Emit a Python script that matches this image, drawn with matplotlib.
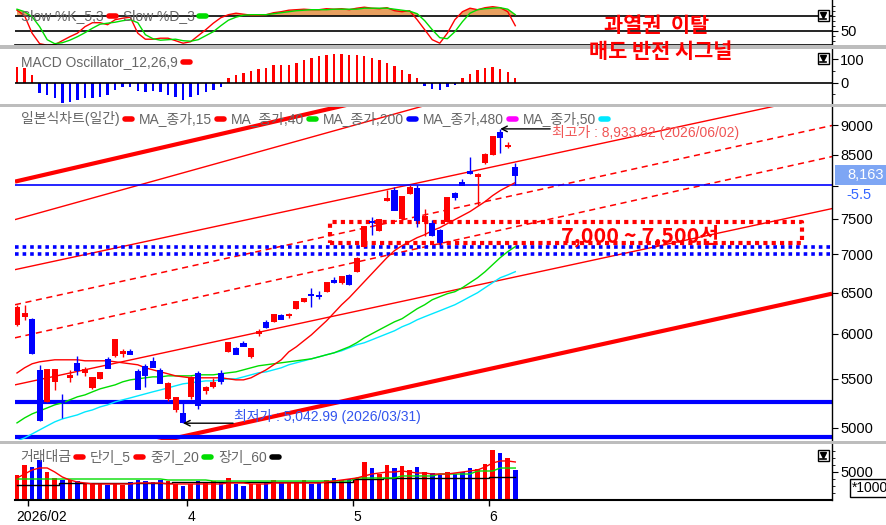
import numpy as np
import matplotlib
matplotlib.use("Agg")
import matplotlib.pyplot as plt
from matplotlib.patches import Rectangle
from matplotlib.lines import Line2D
import matplotlib.transforms as mtransforms
from matplotlib.ticker import FixedLocator, FixedFormatter, NullLocator

W, H = 887, 525
plt.rcParams['font.family'] = ['Liberation Sans', 'Noto Sans CJK KR', 'DejaVu Sans']

# ---------------- data ----------------
opens  = [6107, 6203, 6179, 5596, 5259, 5467, 5270, 5510, 5673, 5560,
          5405, 5500, 5718, 5742, 5770, 5808, 5585, 5640, 5695, 5596,
          5285, 5178, 5148, 5310, 5563, 5370, 5414, 5563, 5795, 5840,
          5897, 5730, 6000, 6143, 6143, 6227, 6205, 6300, 6386, 6480,
          6470, 6511, 6664, 6616, 6730, 6769, 7106, 7465, 7330, 7770,
          7937, 7503, 7876, 7968, 7460, 7445, 7344, 7460, 7891, 8062,
          8236, 8140, 8365, 8496, 8884, 8620, 8300]
highs  = [6340, 6349, 6190, 5650, 5596, 5600, 5335, 5596, 5742, 5630,
          5520, 5575, 5730, 5940, 5830, 5830, 5600, 5660, 5739, 5610,
          5460, 5310, 5250, 5530, 5580, 5420, 5508, 5594, 5910, 5850,
          5920, 5825, 6060, 6160, 6235, 6240, 6250, 6390, 6430, 6562,
          6520, 6630, 6700, 6710, 6740, 6960, 7400, 7532, 7495, 7937,
          7980, 7835, 8010, 8010, 7640, 7480, 7360, 7830, 7900, 8100,
          8463, 8204, 8520, 8810, 8933.82, 8712, 8365]
lows   = [6095, 6167, 5770, 5068, 5250, 5383, 5098, 5460, 5540, 5530,
          5390, 5490, 5610, 5735, 5740, 5770, 5394, 5414, 5620, 5450,
          5270, 5157, 5042.99, 5290, 5187, 5340, 5400, 5440, 5790, 5765,
          5855, 5720, 5975, 6070, 6140, 6170, 6190, 6295, 6380, 6325,
          6420, 6505, 6625, 6610, 6600, 6760, 7100, 7273, 7320, 7760,
          7630, 7495, 7870, 7380, 7260, 7250, 7106, 7450, 7780, 8010,
          8190, 7711, 8340, 8490, 8530, 8600, 8015]
closes = [6312, 6239, 5784, 5078, 5596, 5596, 5255, 5530, 5596, 5590,
          5510, 5563, 5618, 5930, 5790, 5772, 5394, 5542, 5629, 5457,
          5445, 5300, 5055, 5510, 5228, 5395, 5457, 5478, 5897, 5772,
          5862, 5820, 6025, 6083, 6227, 6180, 6220, 6386, 6423, 6465,
          6460, 6626, 6630, 6703, 6603, 6943, 7387, 7450, 7488, 7795,
          7635, 7830, 7968, 7488, 7530, 7273, 7175, 7815, 7830, 8015,
          8204, 8170, 8496, 8798, 8798, 8640, 8163]

ma15 = [5560, 5616, 5660, 5682, 5693, 5704, 5704, 5704, 5704, 5693,
        5693, 5693, 5693, 5682, 5671, 5660, 5649, 5616, 5594, 5572,
        5551, 5529, 5518, 5508, 5508, 5508, 5508, 5508, 5497, 5486,
        5486, 5508, 5551, 5594, 5649, 5704, 5793, 5850, 5919, 5988,
        6070, 6153, 6250, 6348, 6435, 6536, 6639, 6743, 6849, 6956,
        7052, 7120, 7176, 7232, 7274, 7331, 7374, 7432, 7490, 7549,
        7608, 7682, 7757, 7848, 7925, 7987, 8049]
ma40 = [5046, 5095, 5135, 5165, 5195, 5226, 5246, 5277, 5308, 5328,
        5360, 5391, 5412, 5433, 5465, 5486, 5497, 5508, 5518, 5518,
        5529, 5529, 5529, 5529, 5540, 5540, 5540, 5551, 5562, 5572,
        5594, 5616, 5638, 5649, 5660, 5671, 5682, 5693, 5704, 5715,
        5737, 5760, 5782, 5816, 5850, 5896, 5953, 6000, 6047, 6094,
        6141, 6178, 6238, 6299, 6348, 6410, 6448, 6486, 6511, 6562,
        6626, 6690, 6769, 6862, 6956, 7038, 7107]
ma50 = [4872, 4901, 4939, 4978, 5017, 5056, 5085, 5105, 5125, 5155,
        5175, 5205, 5226, 5256, 5277, 5297, 5318, 5339, 5360, 5380,
        5401, 5423, 5444, 5454, 5465, 5475, 5475, 5486, 5497, 5497,
        5518, 5540, 5562, 5572, 5594, 5616, 5649, 5671, 5693, 5715,
        5737, 5760, 5782, 5805, 5839, 5873, 5896, 5930, 5965, 6000,
        6035, 6082, 6118, 6165, 6202, 6238, 6274, 6311, 6348, 6397,
        6448, 6498, 6562, 6626, 6690, 6727, 6769]

stoch_k = [91, 80, 45, 24, 21, 22, 30, 38, 45, 58,
           66, 66, 62, 72, 75, 77, 45, 33, 33, 35,
           35, 30, 25, 28, 40, 52, 65, 76, 82, 85,
           83, 81, 81, 82, 86, 88, 91, 92, 93, 92,
           92, 94, 93, 94, 92, 95, 97, 95, 94, 96,
           90, 88, 90, 72, 52, 32, 25, 45, 72, 88,
           95, 92, 96, 98, 96, 88, 60]
stoch_d = [93, 88, 78, 58, 32, 24, 26, 31, 38, 46,
           55, 63, 65, 67, 70, 72, 66, 42, 34, 31,
           32, 33, 30, 29, 32, 40, 48, 60, 71, 77,
           81, 82, 82, 82, 84, 86, 88, 90, 91, 92,
           92, 92, 93, 93, 93, 93, 95, 95, 95, 95,
           93, 91, 89, 84, 70, 52, 36, 34, 48, 68,
           85, 92, 94, 95, 96, 93, 82]

macd_osc = [68, 61, 33, -45, -53, -67, -85, -81, -74, -67,
            -67, -60, -53, -31, -20, -20, -34, -38, -34, -38,
            -53, -60, -74, -60, -53, -38, -31, -20, 19, 33,
            43, 50, 57, 64, 76, 76, 76, 83, 97, 105,
            114, 118, 123, 123, 118, 118, 114, 105, 97, 84,
            71, 54, 37, 20, -14, -28, -31, -18, -10, 20,
            37, 54, 63, 67, 58, 46, 20]

volume = [4460, 6250, 5890, 7140, 5000, 3930, 3570, 3570, 3390, 2860,
          2860, 2860, 2680, 3040, 2680, 3210, 3570, 3390, 3210, 3570,
          3390, 2860, 2500, 2860, 3390, 3040, 3390, 3040, 3930, 2860,
          2500, 2860, 2860, 3040, 3570, 3210, 3040, 3210, 3570, 2860,
          3040, 3570, 3930, 3570, 3750, 3930, 6790, 5710, 4640, 6250,
          5710, 6070, 5360, 5890, 5000, 4820, 4460, 5000, 4640, 5000,
          5710, 5540, 6430, 8930, 8390, 7500, 5360]
vol_ma5 = [3930, 4640, 5360, 5720, 5720, 5000, 4110, 3570, 3210, 3040,
           2860, 2860, 2860, 2860, 2860, 2860, 3040, 3040, 3040, 3040,
           2860, 2860, 2860, 2860, 2860, 2860, 2860, 2860, 3040, 3040,
           3040, 2860, 2860, 2860, 3040, 3040, 3040, 3040, 3040, 3040,
           3040, 3210, 3390, 3570, 3750, 3930, 4290, 4640, 4820, 5000,
           5000, 5180, 5000, 4820, 4820, 4640, 4640, 4640, 4820, 5000,
           5180, 5360, 5890, 6610, 6970, 6970, 6790]
vol_ma20 = [3750, 3750, 3750, 3750, 3750, 3750, 3750, 3750, 3750, 3750,
            3750, 3750, 3750, 3750, 3750, 3750, 3750, 3750, 3750, 3750,
            3570, 3570, 3570, 3570, 3570, 3570, 3390, 3390, 3390, 3390,
            3390, 3390, 3390, 3390, 3390, 3390, 3390, 3390, 3390, 3390,
            3390, 3390, 3390, 3390, 3390, 3930, 3930, 3930, 3930, 3930,
            3930, 4290, 4290, 4290, 4290, 4290, 4640, 4640, 4640, 4640,
            4640, 5180, 5180, 5180, 5710, 5710, 5710]
vol_ma60 = [2680, 2680, 2680, 2680, 2680, 2680, 2950, 2950, 2950, 2950,
            2950, 2950, 2950, 2950, 2950, 2950, 2950, 2950, 2950, 2950,
            2950, 3300, 3300, 3300, 3300, 3300, 3300, 3300, 3300, 3300,
            3300, 3300, 3300, 3300, 3300, 3300, 3300, 3300, 3300, 3300,
            3300, 3300, 3300, 3300, 3300, 3750, 3750, 3750, 3750, 3930,
            3930, 3930, 3930, 3930, 3930, 3930, 3930, 3930, 3930, 3930,
            3930, 3930, 3930, 4110, 4110, 4110, 4110]

# trend lines: (x0, p0, x1, p1) in bar index / price
trend_thick = [(-0.27, 8064, 107.95, 11642), (-0.27, 4575, 107.95, 6486)]
trend_thin = [(-0.27, 7490, 107.95, 11650), (-0.27, 6796, 107.95, 9564),
              (-0.27, 5433, 107.95, 7652)]
trend_dashed = [(-0.27, 6348, 107.95, 8993), (-0.27, 5953, 107.95, 8466)]
hline_blue_thin = [8015]
hline_blue_thick = [5250, 4905]
hline_blue_dotted = [7100, 7000]
zone_box = (41.5, 104.0, 7160, 7460)

high_idx, high_val, high_date = 64, 8933.82, "2026/06/02"
low_idx, low_val, low_date = 22, 5042.99, "2026/03/31"
date_ticks = [1.5, 22.5, 44.5, 62.5]
date_labels = ["2026/02", "4", "5", "6"]
last_change = "-5.5"

RED = "#ff0000"
BLUE = "#0000ff"
GRAY_TXT = "#666666"

# ---------------- figure ----------------
fig = plt.figure(figsize=(W / 100, H / 100), dpi=100)
fig.patch.set_facecolor("white")


def rect(x0, y0, x1, y1):
    return [x0 / W, 1 - y1 / H, (x1 - x0) / W, (y1 - y0) / H]


XL = (-0.265, 107.95)
idx = np.arange(len(closes))
o = np.array(opens, float)
c = np.array(closes, float)
hi = np.array(highs, float)
lo = np.array(lows, float)
col = np.where(c >= o, RED, BLUE)


def style_ax(ax):
    ax.set_xlim(*XL)
    ax.set_facecolor("white")
    for s in ("left", "top", "bottom"):
        ax.spines[s].set_visible(False)
    ax.spines["right"].set_color("black")
    ax.spines["right"].set_linewidth(1.0)
    ax.yaxis.tick_right()
    ax.tick_params(axis="y", which="both", direction="out", colors="black",
                   labelsize=10.5, pad=2)
    ax.tick_params(axis="y", which="major", length=4)
    ax.tick_params(axis="y", which="minor", length=2)
    ax.set_xticks([])


# ---- stochastic ----
ax_st = fig.add_axes(rect(15, 0, 832, 45))
style_ax(ax_st)
ax_st.set_ylim(21.4, 111.4)
ax_st.spines["bottom"].set_visible(True)
ax_st.spines["bottom"].set_color("black")
ax_st.spines["bottom"].set_linewidth(1.2)
k = np.array(stoch_k, float)
d = np.array(stoch_d, float)
top = np.maximum(k, d)
ax_st.fill_between(idx, 80, top, where=top > 80, interpolate=True,
                   color="#e8a060", lw=0)
ax_st.axhline(80, color="black", lw=1.2)
ax_st.axhline(50, color="black", lw=1.2)
ax_st.plot(idx, k, color=RED, lw=1)
ax_st.plot(idx, d, color="#00dd00", lw=1)
ax_st.yaxis.set_major_locator(FixedLocator([50]))
ax_st.yaxis.set_minor_locator(FixedLocator([30, 40, 60, 70, 80, 90, 100]))

# ---- MACD ----
ax_mc = fig.add_axes(rect(15, 49, 832, 104))
style_ax(ax_mc)
ax_mc.set_ylim(-91, 144)
m = np.array(macd_osc, float)
ax_mc.bar(idx, m, width=0.32, color=np.where(m >= 0, RED, BLUE), lw=0)
ax_mc.axhline(0, color="black", lw=1.2)
ax_mc.yaxis.set_major_locator(FixedLocator([-100, 0, 100]))
ax_mc.yaxis.set_minor_locator(FixedLocator([-50, 50]))

# ---- price ----
ax_pr = fig.add_axes(rect(15, 107, 832, 440))
style_ax(ax_pr)
ax_pr.set_yscale("log")
ax_pr.set_ylim(4881, 9322)
ax_pr.yaxis.set_major_locator(FixedLocator([5000, 5500, 6000, 6500, 7000, 7500, 8000, 8500, 9000]))
ax_pr.yaxis.set_major_formatter(FixedFormatter(["5000", "5500", "6000", "6500", "7000", "7500", "", "8500", "9000"]))
ax_pr.yaxis.set_minor_locator(NullLocator())

for (x0, p0, x1, p1) in trend_thick:
    ax_pr.plot([x0, x1], [p0, p1], color=RED, lw=3.0, solid_capstyle="butt")
for (x0, p0, x1, p1) in trend_thin:
    ax_pr.plot([x0, x1], [p0, p1], color=RED, lw=1.0)
for (x0, p0, x1, p1) in trend_dashed:
    ax_pr.plot([x0, x1], [p0, p1], color=RED, lw=1.1, linestyle=(0, (4, 3)))
for p in hline_blue_thin:
    ax_pr.axhline(p, color=BLUE, lw=1.2)
for p in hline_blue_thick:
    ax_pr.axhline(p, color=BLUE, lw=3.0)
for p in hline_blue_dotted:
    ax_pr.axhline(p, color=BLUE, lw=2.6, linestyle=(0, (1, 1.1)))
zx0, zx1, zp0, zp1 = zone_box
ax_pr.plot([zx0, zx1, zx1, zx0, zx0], [zp0, zp0, zp1, zp1, zp0], color=RED,
           lw=3.0, linestyle=(0, (1, 1)))

ax_pr.plot(idx, ma50, color="#00e8ff", lw=1.0)
ax_pr.plot(idx, ma40, color="#00dd00", lw=1.0)
ax_pr.plot(idx, ma15, color=RED, lw=1.0)

# candles
ax_pr.vlines(idx, lo, hi, colors=col, lw=1.0, zorder=4)
blo = np.minimum(o, c)
bhi = np.maximum(o, c)
ax_pr.bar(idx, bhi - blo, bottom=blo, width=0.8, color=col, lw=0, zorder=5)
ax_pr.hlines(c, idx - 0.4, idx + 0.4, colors=col, lw=1.4, zorder=5)

# high / low annotations
ax_pr.annotate("", xy=(high_idx, high_val), xytext=(36, 0), textcoords="offset points",
               arrowprops=dict(arrowstyle="->", color="black", lw=1.0, shrinkA=0, shrinkB=0),
               zorder=6)
ax_pr.annotate(f"최고가 : {high_val:,.2f} ({high_date})", xy=(high_idx, high_val),
               xytext=(37, -2.5), textcoords="offset points", ha="left", va="center",
               fontsize=10, color="#f05555", zorder=6)
ax_pr.annotate("", xy=(low_idx, low_val), xytext=(36, 0), textcoords="offset points",
               arrowprops=dict(arrowstyle="->", color="black", lw=1.0, shrinkA=0, shrinkB=0),
               zorder=6)
ax_pr.annotate(f"최저가 : {low_val:,.2f} ({low_date})", xy=(low_idx, low_val),
               xytext=(37, 4.5), textcoords="offset points", ha="left", va="center",
               fontsize=10, color="#3355ee", zorder=6)

fig.text(640 / W, 1 - 236 / H, "7,000 ~ 7,500선", fontsize=15.5, fontweight="bold",
         color=RED, ha="center", va="center", family=["Noto Sans CJK KR"], zorder=7)

# last-price tag (figure-level so it sits above the axes)
last = closes[-1]
fig.canvas.draw()
ypix = ax_pr.transData.transform((0, last))[1]
ypix2 = ax_pr.transData.transform((0, last * 0.962))[1]
fig.add_artist(Rectangle((835 / W, (ypix - 10) / H), 52 / W, 20 / H, transform=fig.transFigure,
                         facecolor="#7ea6f4", edgecolor="none", zorder=8))
fig.text(847 / W, ypix / H, f"{last:,.0f}", fontsize=10.5, color="white",
         ha="left", va="center", zorder=9)
fig.text(846 / W, ypix2 / H, last_change, fontsize=10.5, color="#3366ff",
         ha="left", va="center", zorder=9)

# ---- volume ----
ax_vo = fig.add_axes(rect(15, 444, 832, 500))
style_ax(ax_vo)
ax_vo.set_ylim(0, 10000)
ax_vo.spines["bottom"].set_visible(True)
ax_vo.spines["bottom"].set_color("black")
ax_vo.spines["bottom"].set_linewidth(1.5)
ax_vo.bar(idx, volume, width=0.6, color=col, lw=0)
ax_vo.plot(idx, vol_ma60, color="black", lw=1.0, drawstyle="steps-mid")
ax_vo.plot(idx, vol_ma20, color="#00dd00", lw=1.0)
ax_vo.plot(idx, vol_ma5, color=RED, lw=1.0)
ax_vo.yaxis.set_major_locator(FixedLocator([5000]))
ax_vo.yaxis.set_minor_locator(FixedLocator([1250, 2500, 3750, 6250, 7500, 8750]))
ax_vo.set_xticks(date_ticks)
ax_vo.set_xticklabels([])
ax_vo.tick_params(axis="x", direction="out", length=4, width=1, colors="black")
trx = mtransforms.blended_transform_factory(ax_vo.transData, fig.transFigure)
for t, lab in zip(date_ticks, date_labels):
    xpos = t + 0.1 if lab != "2026/02" else -0.15
    ax_vo.text(xpos, 1 - 517 / H, lab, transform=trx, fontsize=10, ha="left",
               va="center", color="black", clip_on=False)
fig.text(852 / W, 1 - 488 / H, "*1000", fontsize=10, ha="left", va="center",
         bbox=dict(boxstyle="square,pad=0.15", fc="white", ec="black", lw=1))

# ---- separators ----
for (y0, y1) in [(45.5, 49), (104, 107.5), (440.5, 444)]:
    fig.add_artist(Rectangle((0, 1 - y1 / H), 1, (y1 - y0) / H, transform=fig.transFigure,
                             facecolor="#bdbdbd", edgecolor="none", zorder=10))

# ---- legends (chained text + markers) ----
fig.canvas.draw()
renderer = fig.canvas.get_renderer()


def legend_row(x, y, items, size=10):
    for label, mcol in items:
        t = fig.text(x / W, 1 - y / H, label, fontsize=size, color=GRAY_TXT,
                     ha="left", va="center", zorder=11)
        bb = t.get_window_extent(renderer)
        x = bb.x1 + 5
        if mcol is not None:
            fig.add_artist(Line2D([x / W, (x + 7) / W], [1 - y / H, 1 - y / H],
                                  transform=fig.transFigure, color=mcol, lw=4,
                                  solid_capstyle="round", zorder=11))
            x += 14


legend_row(21, 16, [("Slow %K_5,3", RED), ("Slow %D_3", "#00dd00")])
legend_row(21, 62, [("MACD Oscillator_12,26,9", RED)])
legend_row(21, 119, [("일본식차트(일간)", RED), ("MA_종가,15", RED), ("MA_종가,40", "#00dd00"),
                     ("MA_종가,200", BLUE), ("MA_종가,480", "#ff00ff"), ("MA_종가,50", "#00e8ff")])
legend_row(20, 457, [("거래대금", RED), ("단기_5", RED), ("중기_20", "#00dd00"), ("장기_60", "black")])

# small panel buttons
for yb in (10, 53, 450):
    fig.add_artist(Rectangle((818 / W, 1 - (yb + 11) / H), 11 / W, 11 / H, transform=fig.transFigure,
                             facecolor="white", edgecolor="black", lw=1, zorder=12))
    fig.add_artist(Line2D([823.5 / W], [1 - (yb + 4.8) / H], transform=fig.transFigure,
                          marker="v", markersize=5, color="black", zorder=13))
    fig.add_artist(Line2D([820.5 / W, 826.5 / W], [1 - (yb + 8.5) / H] * 2, transform=fig.transFigure,
                          color="black", lw=1.2, zorder=13))

# ---- big annotation texts ----
fig.text(657 / W, 1 - 26 / H, "과열권  이탈", fontsize=15, fontweight="bold", color=RED,
         ha="center", va="center", family=["Noto Sans CJK KR"], zorder=12)
fig.text(661 / W, 1 - 51 / H, "매도 반전 시그널", fontsize=15, fontweight="bold", color=RED,
         ha="center", va="center", family=["Noto Sans CJK KR"], zorder=12)

fig.savefig("out.png", dpi=100, facecolor="white")
